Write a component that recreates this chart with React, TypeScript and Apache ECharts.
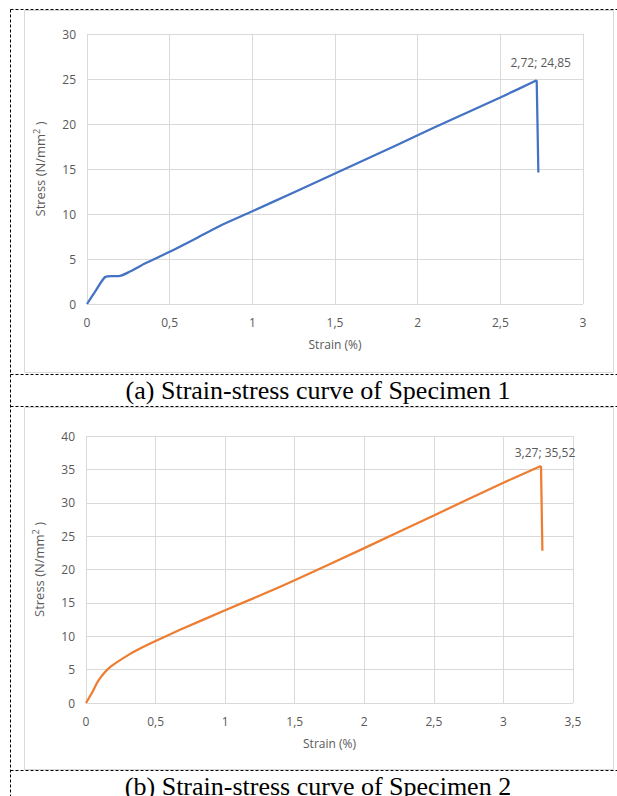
import React, { useEffect, useRef } from "react";
import * as echarts from "echarts";

const strain1 = [0, 0.05, 0.11, 0.15, 0.19, 0.26, 0.35, 0.5, 0.65, 0.8, 1.0, 1.25, 1.5, 1.75, 2.0, 2.2, 2.5, 2.72, 2.73];
const stress1 = [0, 1.4, 3.0, 3.1, 3.1, 3.6, 4.5, 5.8, 7.2, 8.65, 10.3, 12.4, 14.5, 16.6, 18.75, 20.45, 22.95, 24.85, 14.6];

const strain2 = [0, 0.05, 0.09, 0.175, 0.32, 0.41, 0.5, 0.68, 1.0, 1.25, 1.5, 2.0, 2.5, 3.0, 3.27, 3.28];
const stress2 = [0, 1.8, 3.4, 5.4, 7.4, 8.4, 9.3, 11.0, 13.9, 16.1, 18.4, 23.2, 28.1, 33.0, 35.52, 22.8];

const captions = ["(a) Strain-stress curve of Specimen 1", "(b) Strain-stress curve of Specimen 2"];
const xTitle = "Strain (%)";
const yTitle = "Stress (N/mm{sup|2} )";

const GRAY = "#595959";
const GRID = "#d9d9d9";
const FONT = "Open Sans";

const fmt = (v: number) => String(v).replace(".", ",");

function peakIndex(ys: number[]) {
  let peak = 0;
  ys.forEach((y, i) => {
    if (y > ys[peak]) peak = i;
  });
  return peak;
}

function riseData(xs: number[], ys: number[]) {
  const p = peakIndex(ys);
  return xs.slice(0, p + 1).map((x, i) => [x, ys[i]]);
}

function dropData(xs: number[], ys: number[]) {
  const p = peakIndex(ys);
  return xs.slice(p).map((x, i) => [x, ys[p + i]]);
}

function peakMark(xs: number[], ys: number[], distance: number) {
  const p = peakIndex(ys);
  return {
    silent: true,
    data: [
      {
        coord: [xs[p], ys[p]],
        symbol: "circle",
        symbolSize: 1,
        itemStyle: { color: "rgba(0,0,0,0)" },
        label: {
          show: true,
          position: "top",
          distance,
          offset: [4, 0],
          formatter: `${fmt(xs[p])}; ${fmt(ys[p])}`,
          color: GRAY,
          fontFamily: FONT,
          fontSize: 12,
        },
      },
    ],
  };
}

export default function App() {
  const ref = useRef<HTMLDivElement>(null);
  useEffect(() => {
    if (!ref.current) return;
    const chart = echarts.init(ref.current, null, { renderer: "svg" });

    const xAxisBase = (max: number, gap: number) => ({
      type: "value",
      min: 0,
      max,
      interval: 0.5,
      name: xTitle,
      nameLocation: "middle",
      nameGap: gap,
      nameTextStyle: { color: GRAY, fontFamily: FONT, fontSize: 12 },
      axisLine: { show: false },
      axisTick: { show: false },
      axisLabel: { color: GRAY, fontFamily: FONT, fontSize: 12, margin: 12, formatter: fmt },
      splitLine: { show: true, lineStyle: { color: GRID, width: 1 } },
    });
    const yAxisBase = (max: number, gap: number) => ({
      type: "value",
      min: 0,
      max,
      interval: 5,
      name: yTitle,
      nameLocation: "middle",
      nameGap: gap,
      nameTextStyle: {
        color: GRAY,
        fontFamily: FONT,
        fontSize: 13,
        rich: {
          sup: { fontSize: 9, verticalAlign: "top", color: GRAY, fontFamily: FONT, padding: [0, 0, 6, 0] },
        },
      },
      axisLine: { show: false },
      axisTick: { show: false },
      axisLabel: { color: GRAY, fontFamily: FONT, fontSize: 12, margin: 11, formatter: fmt },
      splitLine: { show: true, lineStyle: { color: GRID, width: 1 } },
    });

    const dash = { stroke: "#000", lineWidth: 1, lineDash: [3, 2], fill: null };
    const frame = { stroke: GRID, lineWidth: 1, fill: null };

    const lineSeries = (idx: number, data: any[], color: string, smooth: number | boolean, markPoint?: any) => ({
      type: "line",
      xAxisIndex: idx,
      yAxisIndex: idx,
      data,
      showSymbol: false,
      symbol: "none",
      smooth,
      itemStyle: { color },
      lineStyle: { color, width: 2.25 },
      ...(markPoint ? { markPoint } : {}),
    });

    const captionText = (text: string, y: number) => ({
      type: "text",
      x: 318,
      y,
      style: {
        text,
        font: '26px "Liberation Serif"',
        fill: "#000",
        align: "center",
        verticalAlign: "middle",
      },
      silent: true,
    });

    chart.setOption({
      animation: false,
      grid: [
        { left: 87, top: 34, width: 496, height: 270 },
        { left: 86, top: 436, width: 487, height: 267 },
      ],
      xAxis: [
        { ...xAxisBase(3, 34), gridIndex: 0 },
        { ...xAxisBase(3.5, 34), gridIndex: 1 },
      ],
      yAxis: [
        { ...yAxisBase(30, 40), gridIndex: 0 },
        { ...yAxisBase(40, 40), gridIndex: 1 },
      ],
      series: [
        lineSeries(0, riseData(strain1, stress1), "#4472C4", 0.25, peakMark(strain1, stress1, 11)),
        lineSeries(0, dropData(strain1, stress1), "#4472C4", false),
        lineSeries(1, riseData(strain2, stress2), "#ED7D31", 0.25, peakMark(strain2, stress2, 7)),
        lineSeries(1, dropData(strain2, stress2), "#ED7D31", false),
      ],
      graphic: [
        { type: "rect", shape: { x: 24.5, y: 10.5, width: 589, height: 362 }, style: frame, silent: true },
        { type: "rect", shape: { x: 24.5, y: 407.5, width: 589, height: 362 }, style: frame, silent: true },
        { type: "line", shape: { x1: 10.5, y1: 9.5, x2: 617, y2: 9.5 }, style: dash, silent: true },
        { type: "line", shape: { x1: 10.5, y1: 374.5, x2: 617, y2: 374.5 }, style: dash, silent: true },
        { type: "line", shape: { x1: 10.5, y1: 406.5, x2: 617, y2: 406.5 }, style: dash, silent: true },
        { type: "line", shape: { x1: 10.5, y1: 770.5, x2: 617, y2: 770.5 }, style: dash, silent: true },
        { type: "line", shape: { x1: 10.5, y1: 9.5, x2: 10.5, y2: 796 }, style: dash, silent: true },
        captionText(captions[0], 390),
        captionText(captions[1], 786),
      ],
    });
    return () => chart.dispose();
  }, []);
  return (
    <div
      ref={ref}
      style={{ position: "fixed", left: 0, top: 0, width: 617, height: 796, background: "#fff" }}
    />
  );
}
